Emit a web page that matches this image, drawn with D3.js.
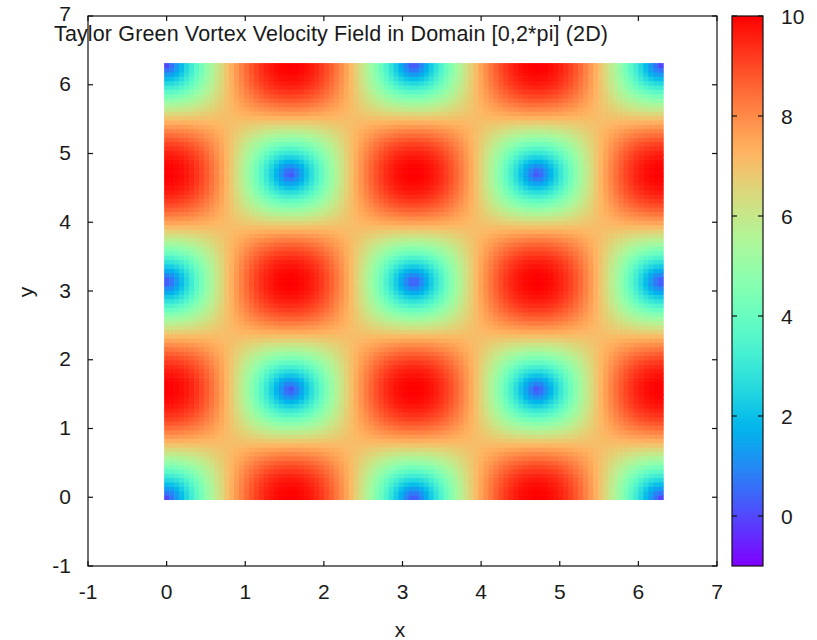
<!DOCTYPE html>
<html>
<head>
<meta charset="utf-8">
<script src="https://cdn.jsdelivr.net/npm/d3@7"></script>
<style>
  html, body { margin: 0; padding: 0; background: #fff; }
  svg { display: block; font-family: "Liberation Sans", Arial, sans-serif; }
  text { fill: #1a1a1a; }
</style>
</head>
<body>
<svg id="chart" width="817" height="640"></svg>
<script>
// Grid of sample points over the domain [0, 2*pi] in each direction
const gridCount = 100;
const gridX = d3.range(gridCount).map(i => i * 2 * Math.PI / (gridCount - 1));
const gridY = d3.range(gridCount).map(j => j * 2 * Math.PI / (gridCount - 1));
const amplitude = 10;

// Axis ticks and colour-bar ticks
const xTicks = [-1, 0, 1, 2, 3, 4, 5, 6, 7];
const yTicks = [-1, 0, 1, 2, 3, 4, 5, 6, 7];
const cbTicks = [0, 2, 4, 6, 8, 10];
const cbDomain = [-1, 10];

const titleText = "Taylor Green Vortex Velocity Field in Domain [0,2*pi] (2D)";

// Taylor-Green vortex: u = A sin x cos y, v = -A cos x sin y; plotted as |(u, v)|
const cells = [];
gridY.forEach(y => {
  gridX.forEach(x => {
    const u = amplitude * Math.sin(x) * Math.cos(y);
    const v = -amplitude * Math.cos(x) * Math.sin(y);
    cells.push({ x, y, speed: Math.hypot(u, v) });
  });
});

// gnuplot-style rgbformulae 33,13,10 palette
function palette(t) {
  t = Math.max(0, Math.min(1, t));
  const r = Math.min(1, Math.abs(2 * t - 0.5));
  const g = Math.max(0, Math.sin(Math.PI * t));
  const b = Math.max(0, Math.cos(Math.PI * t / 2));
  return d3.rgb(r * 255, g * 255, b * 255).formatHex();
}

const svg = d3.select("#chart");
const plot = { left: 88, right: 717, top: 16, bottom: 566 };

const xScale = d3.scaleLinear().domain([-1, 7]).range([plot.left, plot.right]);
const yScale = d3.scaleLinear().domain([-1, 7]).range([plot.bottom, plot.top]);
const cbNorm = d3.scaleLinear().domain(cbDomain).range([0, 1]);
const color = v => palette(cbNorm(v));

// Heat map cells, each centred on its grid point
const dx = gridX[1] - gridX[0];
const dy = gridY[1] - gridY[0];
const cw = xScale(dx) - xScale(0);
const ch = yScale(0) - yScale(dy);
svg.append("g")
  .selectAll("rect")
  .data(cells)
  .join("rect")
  .attr("x", d => xScale(d.x) - cw / 2)
  .attr("y", d => yScale(d.y) - ch / 2)
  .attr("width", cw + 0.6)
  .attr("height", ch + 0.6)
  .attr("fill", d => color(d.speed));

// Frame with inward ticks on all four sides
const tickLen = 5;
const axisG = svg.append("g").attr("stroke", "#111").attr("stroke-width", 1.2);
axisG.append("rect")
  .attr("x", plot.left).attr("y", plot.top)
  .attr("width", plot.right - plot.left).attr("height", plot.bottom - plot.top)
  .attr("fill", "none");
xTicks.forEach(t => {
  const px = xScale(t);
  axisG.append("line").attr("x1", px).attr("x2", px).attr("y1", plot.bottom).attr("y2", plot.bottom - tickLen);
  axisG.append("line").attr("x1", px).attr("x2", px).attr("y1", plot.top).attr("y2", plot.top + tickLen);
});
yTicks.forEach(t => {
  const py = yScale(t);
  axisG.append("line").attr("x1", plot.left).attr("x2", plot.left + tickLen).attr("y1", py).attr("y2", py);
  axisG.append("line").attr("x1", plot.right).attr("x2", plot.right - tickLen).attr("y1", py).attr("y2", py);
});

const fontSize = 21;
svg.append("g").selectAll("text").data(xTicks).join("text")
  .attr("x", d => xScale(d)).attr("y", 591)
  .attr("text-anchor", "middle").attr("dominant-baseline", "central")
  .attr("font-size", fontSize)
  .text(d => d);
svg.append("g").selectAll("text").data(yTicks).join("text")
  .attr("x", 71).attr("y", d => yScale(d) - (d === 7 ? 3 : 1))
  .attr("text-anchor", "end").attr("dominant-baseline", "central")
  .attr("font-size", fontSize)
  .text(d => d);

// Axis titles
svg.append("text").attr("x", 400).attr("y", 629)
  .attr("text-anchor", "middle").attr("dominant-baseline", "central")
  .attr("font-size", fontSize).text("x");
svg.append("text")
  .attr("transform", "translate(25,292) rotate(-90)")
  .attr("text-anchor", "middle").attr("dominant-baseline", "central")
  .attr("font-size", fontSize).text("y");

// Chart title
svg.append("text").attr("x", 54).attr("y", 41)
  .attr("text-anchor", "start")
  .attr("font-size", 21.5)
  .attr("textLength", 554).attr("lengthAdjust", "spacing")
  .text(titleText);

// Colour bar
const cb = { left: 732, right: 763, top: 16, bottom: 566 };
const cbScale = d3.scaleLinear().domain(cbDomain).range([cb.bottom, cb.top]);
const defs = svg.append("defs");
const grad = defs.append("linearGradient").attr("id", "cbGrad")
  .attr("x1", 0).attr("y1", 1).attr("x2", 0).attr("y2", 0);
d3.range(0, 1.0001, 0.02).forEach(t => {
  grad.append("stop").attr("offset", t).attr("stop-color", palette(t));
});
svg.append("rect")
  .attr("x", cb.left).attr("y", cb.top)
  .attr("width", cb.right - cb.left).attr("height", cb.bottom - cb.top)
  .attr("fill", "url(#cbGrad)")
  .attr("stroke", "#111").attr("stroke-width", 1.2);
const cbTickG = svg.append("g").attr("stroke", "#111").attr("stroke-width", 1.2);
cbTicks.forEach(t => {
  const py = cbScale(t);
  cbTickG.append("line").attr("x1", cb.left).attr("x2", cb.left + tickLen).attr("y1", py).attr("y2", py);
  cbTickG.append("line").attr("x1", cb.right).attr("x2", cb.right - tickLen).attr("y1", py).attr("y2", py);
});
svg.append("g").selectAll("text").data(cbTicks).join("text")
  .attr("x", 781).attr("y", d => cbScale(d))
  .attr("text-anchor", "start").attr("dominant-baseline", "central")
  .attr("font-size", fontSize)
  .text(d => d);
</script>
</body>
</html>
